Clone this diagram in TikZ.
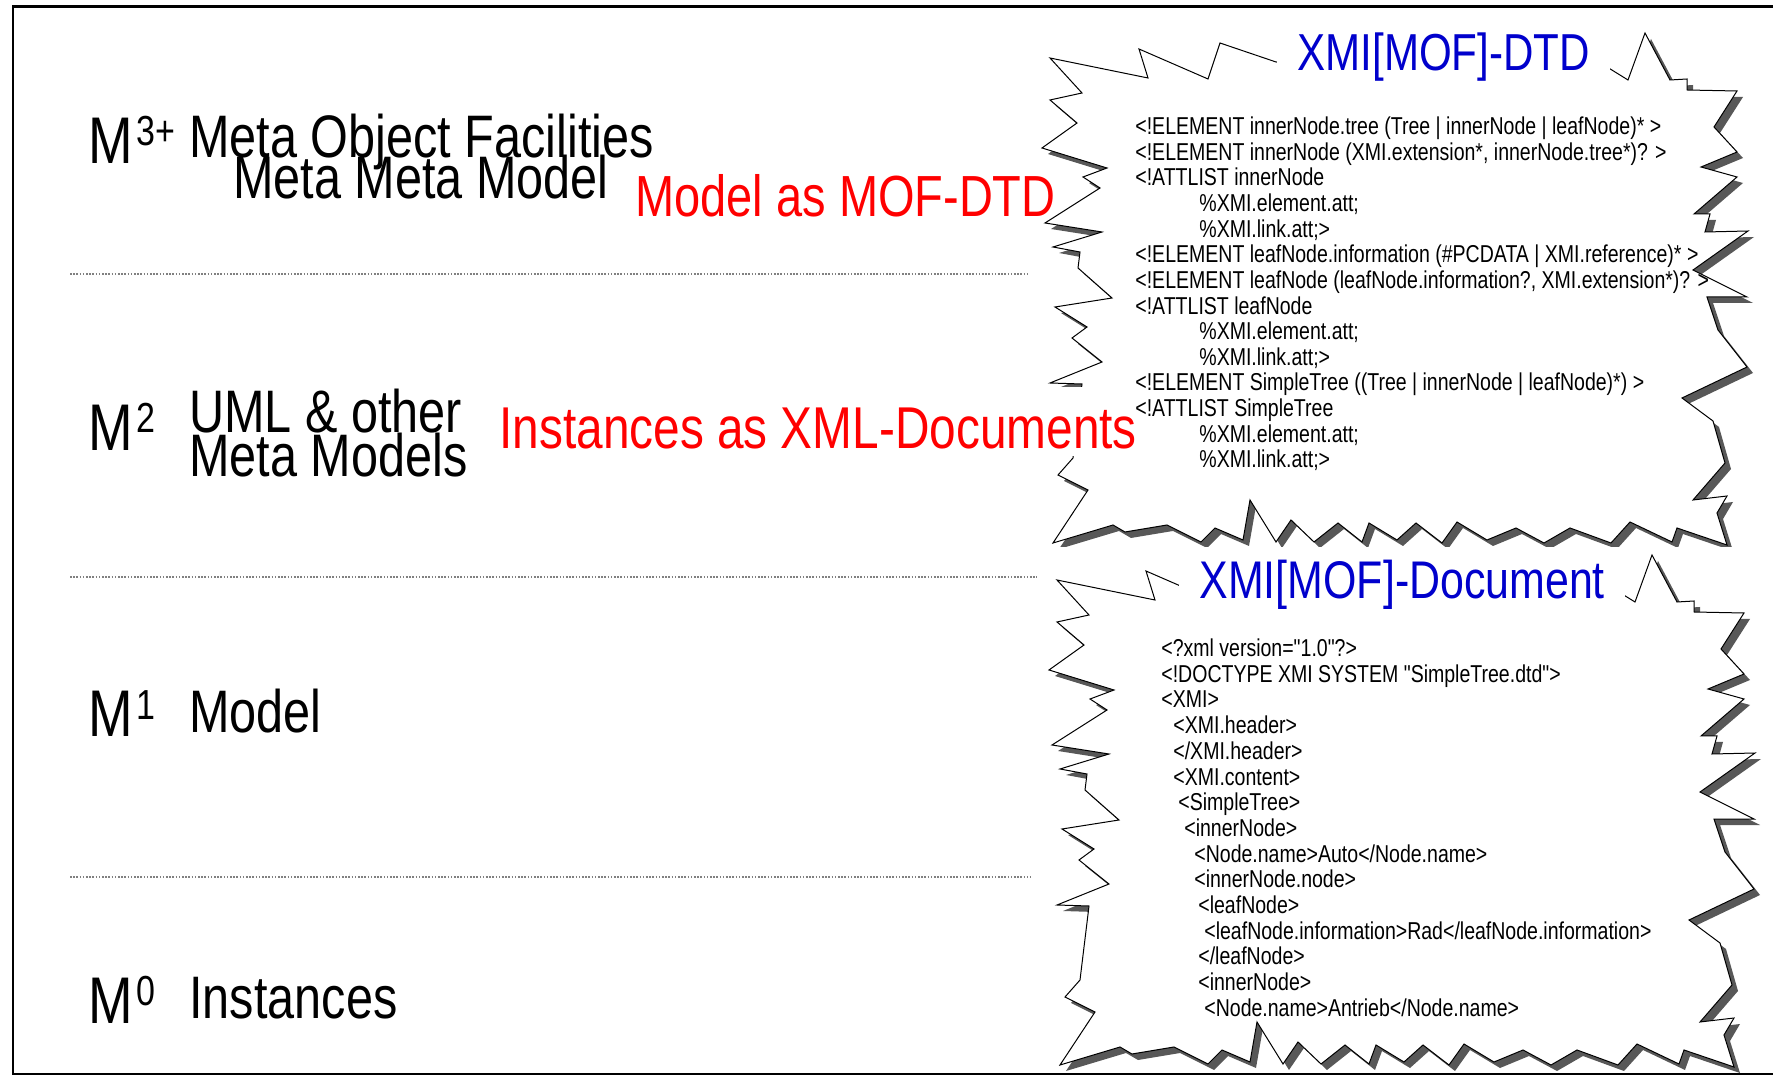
\documentclass[tikz,border=0pt]{standalone}
\usepackage{fontspec}
\setmainfont[FakeStretch=0.81]{Liberation Sans}
\newfontfamily\codefont[FakeStretch=0.8,Ligatures=TeXOff]{Liberation Sans}
\definecolor{titleblue}{RGB}{0,0,204}
\definecolor{labelred}{RGB}{255,0,0}
\definecolor{burstshadow}{RGB}{88,88,88}

\tikzset{
  levelmark/.style={anchor=base west, inner sep=0pt, font=\fontsize{33}{33}\selectfont},
  levelname/.style={anchor=base west, inner sep=0pt, font=\fontsize{30}{30}\selectfont},
  mapping/.style={anchor=base west, inner sep=0pt, text=labelred, font=\fontsize{29.5}{29.5}\selectfont},
  bursttitle/.style={anchor=base west, fill=white, inner xsep=10pt, inner ysep=3pt,
    text=titleblue, font=\fontsize{26.5}{26.5}\selectfont},
  code/.style={anchor=base west, inner sep=0pt, font=\codefont\fontsize{12.2}{12.2}\selectfont},
  levelsep/.style={draw=black!50, line width=0.8pt, dash pattern=on 0.8pt off 0.8pt},
  burstline/.style={fill=white, draw=black, line width=0.5pt, line join=miter},
  burstshade/.style={fill=burstshadow},
}
\newcommand{\levelsup}[1]{\hspace{2pt}\raisebox{9pt}{\fontsize{21}{21}\selectfont #1}}

% jagged callout outline (pixel units, y grows downwards)
\def\burst{(1050,58) -- (1148,78) -- (1139,49) -- (1208,79) -- (1220,43) -- (1276,62)
 -- (1607,67) -- (1628,80) -- (1645,33) -- (1670,80) -- (1687,79) -- (1687,90) -- (1737,91)
 -- (1714,127) -- (1737,152) -- (1701,167) -- (1737,177) -- (1694,214) -- (1710,214)
 -- (1705,232) -- (1748,231) -- (1693,270) -- (1747,297) -- (1707,297) -- (1718,330)
 -- (1747,367) -- (1682,398) -- (1713,421) -- (1725,463) -- (1693,500) -- (1727,496)
 -- (1717,513) -- (1727,545)
 -- (1677,528) -- (1672,542) -- (1630,522) -- (1611,543) -- (1570,528) -- (1544,543)
 -- (1516,528) -- (1487,540) -- (1457,522) -- (1442,543) -- (1416,523) -- (1397,540)
 -- (1369,523) -- (1362,542) -- (1338,523) -- (1314,542) -- (1291,520) -- (1276,542)
 -- (1250,500) -- (1243,540) -- (1215,528) -- (1201,542) -- (1167,525) -- (1125,532)
 -- (1113,525) -- (1053,543)
 -- (1088,490) -- (1058,475) -- (1073,458) -- (1082,384) -- (1050,383) -- (1102,362)
 -- (1072,338) -- (1087,327) -- (1055,307) -- (1112,298) -- (1078,268) -- (1080,252)
 -- (1053,247) -- (1102,232) -- (1045,223) -- (1100,188) -- (1083,177) -- (1107,168)
 -- (1042,148) -- (1077,123) -- (1050,100) -- (1082,93) -- cycle}

\begin{document}
\begin{tikzpicture}[x=0.5pt, y=-0.5pt]
\useasboundingbox (0,0) rectangle (1773,1079);

% page frame
\draw[line width=1.2pt] (1773,6.5) -- (13,6.5) -- (13,1074) -- (1773,1074);

% level separators
\draw[levelsep] (70,274) -- (1027,274);
\draw[levelsep] (70,577) -- (1037,577);
\draw[levelsep] (70,877) -- (1031,877);

% upper callout (DTD)
\begin{scope}
  \clip (1000,0) rectangle (1773,547);
  \fill[burstshade, shift={(6,6)}] \burst;
  \filldraw[burstline] \burst;
\end{scope}

% lower callout (document)
\begin{scope}[shift={(7,522)}]
  \fill[burstshade, shift={(6,6)}] \burst;
  \filldraw[burstline] \burst;
\end{scope}

% meta levels
\node[levelmark] (m3) at (88,164) {M\levelsup{3+}};
\node[levelname] (mof1) at (189,158) {Meta Object Facilities};
\node[levelname, anchor=base] (mof2) at (421,199) {Meta Meta Model};
\node[mapping, font=\fontsize{29}{29}\selectfont] (mapdtd) at (635,217) {Model as MOF-DTD};

\node[levelmark] (m2) at (88,451) {M\levelsup{2}};
\node[levelname] (uml1) at (189,433) {UML \& other};
\node[levelname] (uml2) at (189,477) {Meta Models};
\node[mapping, fill=white, inner sep=2pt, text height=29pt, text depth=1.5pt]
  (mapxml) at (495,449) {Instances as XML-Documents};

\node[levelmark] (m1) at (88,737) {M\levelsup{1}};
\node[levelname] (model) at (189,733) {Model};

\node[levelmark] (m0) at (88,1023) {M\levelsup{0}};
\node[levelname] (inst) at (189,1018) {Instances};

% callout titles
\node[bursttitle, font=\fontsize{26}{26}\selectfont] (dtdtitle) at (1277,71) {XMI[MOF]-DTD};
\node[bursttitle] (doctitle) at (1179,599) {XMI[MOF]-Document};

% DTD listing
\node[code] (d1)  at (1135,134.5) {<!ELEMENT innerNode.tree (Tree | innerNode | leafNode)* >};
\node[code] (d2)  at (1135,160.2) {<!ELEMENT innerNode (XMI.extension*, innerNode.tree*)? >};
\node[code] (d3)  at (1135,185.8) {<!ATTLIST innerNode};
\node[code] (d4)  at (1199,211.5) {\%XMI.element.att;};
\node[code] (d5)  at (1199,237.1) {\%XMI.link.att;>};
\node[code] (d6)  at (1135,262.8) {<!ELEMENT leafNode.information (\#PCDATA | XMI.reference)* >};
\node[code] (d7)  at (1135,288.4) {<!ELEMENT leafNode (leafNode.information?, XMI.extension*)? >};
\node[code] (d8)  at (1135,314.1) {<!ATTLIST leafNode};
\node[code] (d9)  at (1199,339.7) {\%XMI.element.att;};
\node[code] (d10) at (1199,365.4) {\%XMI.link.att;>};
\node[code] (d11) at (1135,391.0) {<!ELEMENT SimpleTree ((Tree | innerNode | leafNode)*) >};
\node[code] (d12) at (1135,416.7) {<!ATTLIST SimpleTree};
\node[code] (d13) at (1199,442.3) {\%XMI.element.att;};
\node[code] (d14) at (1199,468.0) {\%XMI.link.att;>};

% XML document listing
\node[code] (x1)  at (1161,656.5) {<?xml version="1.0"?>};
\node[code] (x2)  at (1161,682.2) {<!DOCTYPE XMI SYSTEM "SimpleTree.dtd">};
\node[code] (x3)  at (1161,707.9) {<XMI>};
\node[code] (x4)  at (1173,733.6) {<XMI.header>};
\node[code] (x5)  at (1173,759.3) {</XMI.header>};
\node[code] (x6)  at (1173,785.0) {<XMI.content>};
\node[code] (x7)  at (1178,810.7) {<SimpleTree>};
\node[code] (x8)  at (1184,836.4) {<innerNode>};
\node[code] (x9)  at (1194,862.1) {<Node.name>Auto</Node.name>};
\node[code] (x10) at (1194,887.8) {<innerNode.node>};
\node[code] (x11) at (1198,913.5) {<leafNode>};
\node[code] (x12) at (1204,939.2) {<leafNode.information>Rad</leafNode.information>};
\node[code] (x13) at (1198,964.9) {</leafNode>};
\node[code] (x14) at (1198,990.6) {<innerNode>};
\node[code] (x15) at (1204,1016.3) {<Node.name>Antrieb</Node.name>};
\end{tikzpicture}
\end{document}
